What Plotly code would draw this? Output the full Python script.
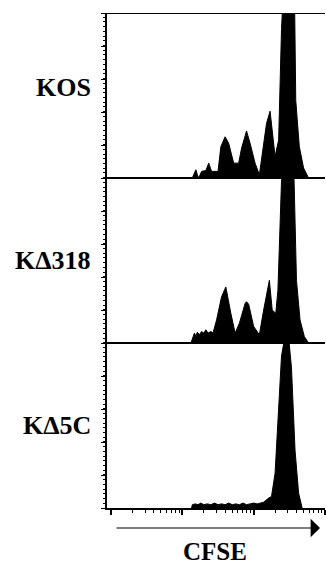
import plotly.graph_objects as go

# ---- data ----
panel_names = ["KOS", "K\u0394318", "K\u03945C"]

# log10(CFSE) positions and histogram heights (in panel-height units)
kos_logx = [1.14, 1.17, 1.19, 1.21, 1.23, 1.27, 1.33, 1.37, 1.41, 1.50, 1.54, 1.60, 1.65, 1.72,
            1.79, 1.83, 1.90, 1.95, 2.02, 2.08, 2.13, 2.18, 2.23, 2.27, 2.30, 2.35, 2.37, 2.39,
            2.43, 2.49, 2.57, 2.59, 2.64, 2.70, 2.77]
kos_h = [0.0, 0.03, 0.05, 0.02, 0.0, 0.04, 0.045, 0.09, 0.04, 0.04, 0.19, 0.25, 0.21, 0.09,
         0.09, 0.18, 0.285, 0.21, 0.09, 0.02, 0.18, 0.33, 0.405, 0.26, 0.13, 0.23, 0.61, 0.90,
         1.25, 1.40, 1.20, 0.47, 0.19, 0.06, 0.0]

k318_logx = [1.12, 1.15, 1.17, 1.19, 1.21, 1.24, 1.27, 1.30, 1.33, 1.36, 1.40, 1.43, 1.48, 1.55,
             1.61, 1.68, 1.74, 1.80, 1.88, 1.90, 1.93, 2.00, 2.08, 2.14, 2.22, 2.26, 2.31, 2.34,
             2.37, 2.39, 2.43, 2.49, 2.56, 2.58, 2.60, 2.65, 2.71, 2.77]
k318_h = [0.0, 0.04, 0.06, 0.04, 0.065, 0.05, 0.07, 0.06, 0.08, 0.06, 0.07, 0.06, 0.14, 0.28,
          0.34, 0.18, 0.06, 0.12, 0.24, 0.25, 0.235, 0.10, 0.05, 0.20, 0.38, 0.20, 0.18, 0.32,
          0.81, 0.98, 1.15, 1.22, 1.10, 0.80, 0.38, 0.14, 0.04, 0.0]

k5c_logx = [1.13, 1.14, 1.18, 1.22, 1.26, 1.30, 1.35, 1.40, 1.45, 1.50, 1.55, 1.60, 1.65, 1.70,
            1.75, 1.80, 1.85, 1.90, 1.95, 2.00, 2.05, 2.10, 2.14, 2.21, 2.25, 2.30, 2.35, 2.39,
            2.43, 2.48, 2.53, 2.58, 2.63, 2.68]
k5c_h = [0.0, 0.02, 0.025, 0.02, 0.03, 0.02, 0.025, 0.02, 0.03, 0.02, 0.025, 0.02, 0.03, 0.02,
         0.025, 0.02, 0.03, 0.02, 0.025, 0.03, 0.025, 0.03, 0.035, 0.06, 0.07, 0.21, 0.61, 0.92,
         1.02, 1.08, 0.85, 0.35, 0.09, 0.0]

panels = [(kos_logx, kos_h), (k318_logx, k318_h), (k5c_logx, k5c_h)]
x_range_log = [-0.056, 3.0]

W, H = 326, 568
ML, MR, MT, MB = 107, 1, 13, 60
serif = "Liberation Serif, Times New Roman, serif"

fig = go.Figure()
n = len(panels)
for i, (lx, h) in enumerate(panels):
    base = n - 1 - i
    xs = [10 ** v for v in lx]
    ys = [base + v for v in h]
    fig.add_trace(go.Scatter(
        x=[xs[0]] + xs + [xs[-1]], y=[base] + ys + [base],
        mode="lines", fill="toself", fillcolor="black",
        line=dict(color="black", width=1), hoverinfo="skip", showlegend=False))

# panel separators + top border
for k in range(1, n + 1):
    fig.add_shape(type="line", xref="paper", yref="y", x0=0, x1=1, y0=k, y1=k,
                  line=dict(color="black", width=2), layer="above")

# panel labels
label_y = [2.55, 1.5, 0.5]
for name, yy in zip(panel_names, label_y):
    fig.add_annotation(x=0, xref="paper", y=yy, yref="y", text="<b>%s</b>" % name,
                       showarrow=False, xanchor="right", yanchor="middle", xshift=-14,
                       font=dict(family=serif, size=26, color="black"))

plot_h = H - MT - MB
plot_w = W - ML - MR
# arrow under the x axis
fig.add_annotation(x=(320 - ML) / plot_w, y=(H - MB - 528) / plot_h, xref="paper", yref="paper",
                   ax=-205, ay=0, text="", showarrow=True, arrowhead=1, arrowsize=2.6,
                   arrowwidth=1.2, arrowcolor="black", standoff=0, startstandoff=0)
# axis title
fig.add_annotation(x=(215 - ML) / plot_w, y=(H - MB - 551) / plot_h, xref="paper", yref="paper",
                   text="<b>CFSE</b>", showarrow=False, xanchor="center", yanchor="middle",
                   font=dict(family=serif, size=25, color="black"))

fig.update_xaxes(type="log", range=x_range_log, showgrid=False, zeroline=False,
                 showline=True, linecolor="black", linewidth=2,
                 ticks="outside", ticklen=5, tickwidth=1.5, tickcolor="black",
                 tickvals=[1, 10, 100, 1000], showticklabels=False,
                 minor=dict(ticks="outside", ticklen=3, tickwidth=1.2, tickcolor="black",
                            tickvals=[m * d for d in (1, 10, 100) for m in range(2, 10)]))
fig.update_yaxes(range=[0, n], showgrid=False, zeroline=False,
                 showline=True, linecolor="black", linewidth=2,
                 ticks="outside", ticklen=4, tickwidth=1.2, tickcolor="black",
                 dtick=0.2, tick0=0, showticklabels=False,
                 minor=dict(ticks="outside", ticklen=2.5, tickwidth=1, tickcolor="black",
                            dtick=0.0286))

fig.update_layout(width=W, height=H, margin=dict(l=ML, r=MR, t=MT, b=MB, pad=0),
                  paper_bgcolor="white", plot_bgcolor="white", showlegend=False)

fig.write_html("out.html", config={"displayModeBar": False},
               post_script="document.body.style.margin='0';document.body.style.overflow='hidden';")
